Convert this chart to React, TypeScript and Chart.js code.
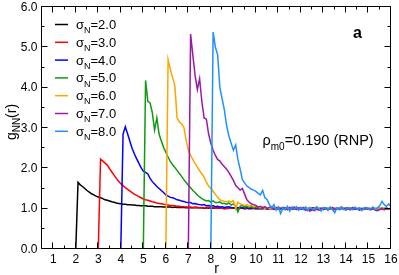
import { useEffect, useRef } from "react";
import { Chart, registerables } from "chart.js";

Chart.register(...registerables);

// ---- data (g_NN(r) sampled on r = sigma, sigma+0.1, ..., 16.0; zero below sigma) ----
const R_MIN = 0.5;
const R_MAX = 16.0;
const R_STEP = 0.1;

const SIGMAS = [2.0, 3.0, 4.0, 5.0, 6.0, 7.0, 8.0];
const SIGMA_LABELS = ["2.0", "3.0", "4.0", "5.0", "6.0", "7.0", "8.0"];
const COLORS = ["#000000", "#ff0000", "#0000ff", "#109a10", "#ffa500", "#9a1aa6", "#1e90ff"];

const G_S2 = [
  0,
  1.65, 1.59, 1.55, 1.50, 1.45, 1.41, 1.37, 1.34, 1.31, 1.29,
  1.27, 1.25, 1.22, 1.21, 1.19, 1.17, 1.16, 1.14, 1.13, 1.12,
  1.11, 1.11, 1.10, 1.10, 1.09, 1.09, 1.08, 1.08, 1.07, 1.07,
  1.07, 1.06, 1.06, 1.06, 1.05, 1.05, 1.05, 1.05, 1.04, 1.04,
  1.04, 1.04, 1.03, 1.04, 1.03, 1.03, 1.03, 1.03, 1.02, 1.03,
  1.02, 1.02, 1.02, 1.03, 1.02, 1.02, 1.01, 1.02, 1.01, 1.02,
  1.01, 1.01, 1.02, 1.01, 1.01, 1.00, 1.01, 1.01, 1.02, 1.01,
  1.01, 1.00, 1.01, 1.01, 1.00, 1.01, 1.01, 1.00, 1.01, 1.00,
  1.00, 1.01, 1.00, 1.01, 1.00, 1.00, 1.01, 1.00, 1.00, 1.01,
  1.00, 1.00, 1.01, 1.00, 1.00, 0.99, 1.00, 1.01, 1.00, 1.00,
  1.00, 1.00, 0.99, 1.00, 1.00, 1.01, 1.00, 1.00, 0.99, 1.00,
  1.00, 1.00, 1.00, 0.99, 1.00, 1.00, 1.00, 1.01, 1.00, 1.00,
  0.99, 1.00, 1.00, 1.00, 1.00, 0.99, 1.00, 1.00, 1.00, 1.00,
  1.00, 0.99, 1.00, 1.00, 1.00, 1.00, 1.00, 0.99, 1.00, 1.00,
];

const G_S3 = [
  0,
  2.23, 2.18, 2.13, 2.08, 1.99, 1.91, 1.83, 1.75, 1.68, 1.62,
  1.57, 1.52, 1.48, 1.44, 1.40, 1.36, 1.33, 1.30, 1.27, 1.24,
  1.22, 1.21, 1.19, 1.17, 1.16, 1.14, 1.13, 1.12, 1.11, 1.10,
  1.09, 1.08, 1.08, 1.07, 1.06, 1.06, 1.05, 1.05, 1.04, 1.04,
  1.04, 1.03, 1.04, 1.03, 1.02, 1.03, 1.02, 1.02, 1.03, 1.02,
  1.02, 1.01, 1.02, 1.01, 1.01, 1.02, 1.00, 1.01, 1.01, 1.02,
  1.01, 1.00, 1.01, 1.02, 1.00, 1.01, 1.00, 1.01, 1.01, 1.00,
  1.01, 1.00, 1.00, 1.02, 1.00, 1.01, 0.99, 1.00, 1.01, 1.00,
  1.00, 1.01, 0.99, 1.00, 1.01, 1.00, 1.00, 0.99, 1.01, 1.00,
  1.00, 0.99, 1.01, 1.00, 1.00, 1.01, 0.99, 1.00, 1.00, 1.01,
  1.00, 0.99, 1.00, 1.01, 1.00, 0.99, 1.00, 1.00, 1.01, 1.00,
  0.99, 1.00, 1.01, 1.00, 0.99, 1.00, 1.00, 1.01, 0.99, 1.00,
  1.00, 1.01, 0.99, 1.00, 1.00, 0.99, 1.01, 1.00, 1.00, 0.99,
];

const G_S4 = [
  0,
  2.85, 3.03, 2.86, 2.68, 2.50, 2.36, 2.24, 2.13, 2.02, 1.93,
  1.90, 1.86, 1.75, 1.67, 1.61, 1.55, 1.50, 1.45, 1.40, 1.34,
  1.31, 1.28, 1.27, 1.25, 1.22, 1.21, 1.19, 1.18, 1.16, 1.15,
  1.15, 1.12, 1.13, 1.11, 1.10, 1.09, 1.10, 1.07, 1.08, 1.06,
  1.07, 1.05, 1.06, 1.04, 1.05, 1.03, 1.04, 1.05, 1.03, 1.02,
  1.04, 1.02, 1.03, 1.01, 1.03, 1.02, 1.00, 1.02, 1.01, 1.03,
  1.01, 1.00, 1.02, 1.01, 0.99, 1.01, 1.02, 1.00, 1.01, 0.99,
  1.01, 1.02, 1.00, 0.99, 1.01, 1.00, 1.02, 1.00, 0.99, 1.01,
  1.00, 1.01, 0.99, 1.00, 1.02, 1.00, 0.99, 1.01, 1.00, 0.98,
  1.00, 1.01, 1.00, 0.99, 1.01, 1.00, 0.99, 1.01, 1.00, 1.00,
  0.99, 1.01, 1.00, 0.99, 1.00, 1.01, 1.00, 0.99, 1.00, 1.01,
  1.00, 0.99, 1.00, 1.01, 0.99, 1.00, 1.00, 1.01, 0.99, 1.00,
];

const G_S5 = [
  0,
  4.18, 3.66, 3.62, 3.38, 2.95, 3.25, 2.85, 2.68, 2.52, 2.40,
  2.28, 2.17, 2.09, 2.02, 1.95, 1.87, 1.80, 1.72, 1.65, 1.58,
  1.52, 1.45, 1.40, 1.34, 1.29, 1.25, 1.22, 1.19, 1.20, 1.16,
  1.19, 1.15, 1.15, 1.17, 1.13, 1.13, 1.11, 1.14, 1.09, 1.12,
  1.07, 0.92, 1.06, 1.08, 1.04, 1.06, 1.03, 1.05, 1.02, 1.04,
  1.02, 1.04, 1.01, 1.03, 1.00, 1.02, 1.04, 1.01, 0.99, 1.02,
  1.03, 1.00, 1.02, 0.98, 1.01, 1.03, 1.00, 0.99, 1.02, 1.01,
  0.99, 1.02, 1.00, 1.03, 0.99, 1.00, 1.02, 0.98, 1.01, 1.00,
  1.02, 0.99, 1.01, 1.00, 0.98, 1.01, 1.02, 0.99, 1.00, 1.01,
  0.99, 1.01, 1.00, 1.02, 0.99, 1.00, 0.98, 1.01, 1.00, 1.02,
  0.99, 1.00, 1.01, 0.98, 1.00, 1.02, 0.99, 1.01, 1.00, 0.99,
];

const G_S6 = [
  0,
  4.70, 4.45, 4.25, 4.05, 3.25, 3.15, 3.10, 3.02, 2.70, 2.45,
  2.32, 2.22, 2.12, 2.03, 1.94, 1.86, 1.78, 1.66, 1.56, 1.50,
  1.43, 1.35, 1.28, 1.22, 1.20, 1.18, 1.17, 1.19, 1.16, 1.20,
  1.00, 1.16, 1.12, 1.10, 1.08, 1.10, 1.06, 1.09, 1.05, 1.07,
  1.04, 1.02, 1.05, 1.01, 1.03, 1.00, 1.02, 1.04, 0.99, 1.02,
  1.01, 1.03, 0.99, 1.01, 1.02, 1.00, 1.03, 0.99, 1.01, 1.00,
  1.02, 0.99, 1.01, 1.03, 1.00, 0.98, 1.01, 1.02, 0.99, 1.01,
  1.00, 1.02, 0.99, 1.00, 1.01, 0.98, 1.02, 1.00, 0.99, 1.01,
  1.00, 0.98, 1.01, 1.02, 0.99, 1.00, 1.01, 0.99, 1.00, 1.02,
  0.98, 1.00, 1.01, 0.99, 1.02, 1.00, 0.99, 1.01, 0.98, 1.00,
];

const G_S7 = [
  0,
  5.33, 4.80, 4.30, 3.95, 4.22, 3.65, 3.25, 3.22, 2.85, 2.62,
  2.45, 2.32, 2.22, 2.18, 2.10, 2.04, 1.98, 1.90, 1.80, 1.70,
  1.58, 1.52, 1.46, 1.50, 1.36, 1.22, 1.16, 1.12, 1.10, 1.08,
  1.04, 1.06, 1.02, 1.05, 1.00, 1.03, 1.05, 0.98, 1.02, 1.04,
  0.99, 1.03, 1.01, 0.97, 1.03, 1.00, 1.04, 0.98, 1.02, 0.99,
  1.03, 0.96, 0.98, 0.94, 0.97, 0.95, 0.99, 0.96, 1.01, 0.98,
  1.02, 0.97, 1.00, 1.03, 0.98, 1.01, 0.99, 1.04, 0.98, 1.02,
  1.00, 0.97, 1.03, 0.99, 1.01, 0.96, 1.00, 0.98, 1.02, 0.99,
  0.97, 1.01, 0.96, 0.95, 0.98, 1.00, 0.97, 1.01, 0.99, 1.02,
];

const G_S8 = [
  0,
  5.38, 5.00, 4.82, 4.00, 3.72, 3.45, 3.05, 2.80, 2.62, 2.45,
  2.58, 2.22, 1.98, 1.72, 1.64, 1.56, 1.52, 1.48, 1.46, 1.43,
  1.38, 1.34, 1.45, 1.27, 1.22, 1.10, 1.02, 1.10, 0.96, 1.04,
  0.88, 1.02, 0.97, 1.06, 0.94, 1.04, 0.99, 1.05, 0.96, 1.03,
  0.98, 1.04, 0.95, 1.02, 1.00, 0.97, 1.05, 0.99, 0.94, 1.03,
  1.01, 0.96, 1.04, 0.98, 0.90, 1.02, 0.97, 1.05, 0.99, 0.96,
  1.03, 1.00, 0.97, 1.04, 0.98, 1.02, 0.95, 1.01, 1.03, 0.98,
  1.00, 1.04, 0.97, 1.02, 1.07, 1.18, 1.10, 1.06, 1.12, 1.04,
];

const SERIES = [G_S2, G_S3, G_S4, G_S5, G_S6, G_S7, G_S8];

const X_TICKS = [1, 2, 3, 4, 5, 6, 7, 8, 9, 10, 11, 12, 13, 14, 15, 16];
const Y_TICKS = [0, 1, 2, 3, 4, 5, 6];
const Y_TICK_LABELS = ["0.0", "1.0", "2.0", "3.0", "4.0", "5.0", "6.0"];
const Y_MIN = 0;
const Y_MAX = 6;

const ANNOTATION_MAIN = "ρ";
const ANNOTATION_SUB = "m0";
const ANNOTATION_REST = "=0.190 (RNP)";
const PANEL_LABEL = "a";
const X_TITLE = "r";

const FONT = "'Liberation Sans', Arial, Helvetica, sans-serif";

type Part = { t: string; sub?: boolean };

function drawParts(ctx: CanvasRenderingContext2D, parts: Part[], x: number, y: number, size: number, measureOnly = false) {
  let cx = x;
  for (const p of parts) {
    const s = p.sub ? Math.round(size * 0.68) : size;
    ctx.font = `${s}px ${FONT}`;
    if (!measureOnly) ctx.fillText(p.t, cx, y + (p.sub ? size * 0.32 : 0));
    cx += ctx.measureText(p.t).width;
  }
  return cx - x;
}

const overlay = {
  id: "overlay",
  afterDatasetsDraw(chart: any) {
    const ctx: CanvasRenderingContext2D = chart.ctx;
    const area = chart.chartArea;
    const xs = chart.scales.x;
    const ys = chart.scales.y;
    ctx.save();
    ctx.strokeStyle = "#000";
    ctx.fillStyle = "#000";
    ctx.lineWidth = 1;
    const L = Math.round(area.left) - 0.5;
    const R = Math.round(area.right) - 0.5;
    const T = Math.round(area.top) - 0.5;
    const B = Math.round(area.bottom) - 0.5;
    ctx.beginPath();
    ctx.rect(L, T, R - L, B - T);
    ctx.stroke();

    // ticks (inward on all sides)
    ctx.beginPath();
    for (let v = R_MIN; v <= R_MAX + 1e-9; v += 0.5) {
      const major = X_TICKS.includes(Math.round(v * 10) / 10);
      const len = major ? 6 : 3;
      const px = Math.round(xs.getPixelForValue(v)) - 0.5;
      ctx.moveTo(px, B);
      ctx.lineTo(px, B - len);
      ctx.moveTo(px, T);
      ctx.lineTo(px, T + len);
    }
    for (let v = Y_MIN; v <= Y_MAX + 1e-9; v += 0.5) {
      const major = Y_TICKS.includes(Math.round(v * 10) / 10);
      const len = major ? 6 : 3;
      const py = Math.round(ys.getPixelForValue(v)) - 0.5;
      ctx.moveTo(L, py);
      ctx.lineTo(L + len, py);
      ctx.moveTo(R, py);
      ctx.lineTo(R - len, py);
    }
    ctx.stroke();

    // tick labels
    ctx.font = `12px ${FONT}`;
    ctx.textAlign = "center";
    ctx.textBaseline = "middle";
    X_TICKS.forEach((v) => {
      ctx.fillText(String(v), xs.getPixelForValue(v), area.bottom + 10.5);
    });
    ctx.textAlign = "right";
    Y_TICKS.forEach((v, i) => {
      ctx.fillText(Y_TICK_LABELS[i], area.left - 4.5, ys.getPixelForValue(v) + 0.5);
    });

    // x title
    ctx.font = `14px ${FONT}`;
    ctx.textAlign = "center";
    ctx.textBaseline = "alphabetic";
    ctx.fillText(X_TITLE, (area.left + area.right) / 2, 273);

    // y title g_NN(r)
    ctx.save();
    ctx.translate(16, 122);
    ctx.rotate(-Math.PI / 2);
    ctx.textAlign = "left";
    const yParts: Part[] = [{ t: "g" }, { t: "NN", sub: true }, { t: "(r)" }];
    const w = drawParts(ctx, yParts, 0, 0, 14, true);
    drawParts(ctx, yParts, -w / 2, 0, 14);
    ctx.restore();

    // legend
    ctx.textAlign = "left";
    ctx.textBaseline = "alphabetic";
    SIGMAS.forEach((_, i) => {
      const yMid = 24.5 + i * 17.8;
      ctx.strokeStyle = COLORS[i];
      ctx.lineWidth = 1.5;
      ctx.beginPath();
      ctx.moveTo(55, yMid);
      ctx.lineTo(68, yMid);
      ctx.stroke();
      ctx.fillStyle = "#000";
      drawParts(ctx, [{ t: "σ" }, { t: "N", sub: true }, { t: "=" + SIGMA_LABELS[i] }], 76, yMid + 4.5, 13);
    });

    // annotation
    drawParts(ctx, [{ t: ANNOTATION_MAIN }, { t: ANNOTATION_SUB, sub: true }, { t: ANNOTATION_REST }], 262.5, 145, 14.5);

    // panel label
    ctx.font = `bold 16px ${FONT}`;
    ctx.textAlign = "center";
    ctx.fillText(PANEL_LABEL, 357.5, 37.5);
    ctx.restore();
  },
};

export default function App() {
  const ref = useRef<HTMLCanvasElement | null>(null);
  useEffect(() => {
    document.body.style.margin = "0";
    const canvas = ref.current;
    if (!canvas) return;
    const datasets = SERIES.map((vals, i) => ({
      label: "σN=" + SIGMA_LABELS[i],
      data: [
        { x: R_MIN, y: 0 },
        ...vals.map((v, k) => ({ x: Math.round((SIGMAS[i] + k * R_STEP) * 100) / 100, y: v })),
      ],
      borderColor: COLORS[i],
      backgroundColor: COLORS[i],
      borderWidth: 1.5,
      pointRadius: 0,
      tension: 0,
      fill: false,
      order: SERIES.length - 1 - i,
    }));
    const chart = new Chart(canvas, {
      type: "line",
      data: { datasets },
      options: {
        animation: false,
        responsive: false,
        maintainAspectRatio: false,
        layout: { padding: { top: 7, right: 8, left: 0, bottom: 0 } },
        plugins: { legend: { display: false }, tooltip: { enabled: false } },
        scales: {
          x: {
            type: "linear",
            min: R_MIN,
            max: R_MAX,
            grid: { display: false, drawTicks: false },
            border: { display: false },
            ticks: { display: false },
            afterBuildTicks: (s: any) => {
              s.ticks = X_TICKS.map((v) => ({ value: v }));
            },
            afterFit: (s: any) => {
              s.height = 26;
            },
          },
          y: {
            type: "linear",
            min: Y_MIN,
            max: Y_MAX,
            grid: { display: false, drawTicks: false },
            border: { display: false },
            ticks: { display: false },
            afterBuildTicks: (s: any) => {
              s.ticks = Y_TICKS.map((v) => ({ value: v }));
            },
            afterFit: (s: any) => {
              s.width = 42;
            },
          },
        },
      } as any,
      plugins: [overlay],
    });
    return () => chart.destroy();
  }, []);
  return (
    <div style={{ width: 399, height: 275, background: "#fff" }}>
      <canvas ref={ref} width={399} height={275} style={{ display: "block" }} />
    </div>
  );
}
